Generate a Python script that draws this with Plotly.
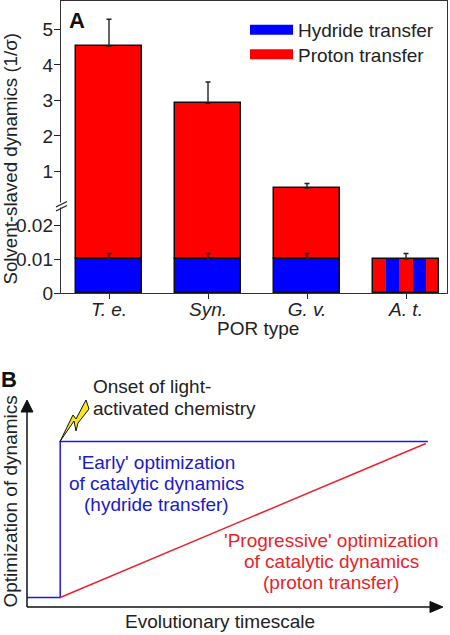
import plotly.graph_objects as go

# ---- data, panel A ----
por_types = ["T. e.", "Syn.", "G. v.", "A. t."]
hydride = [0.01, 0.01, 0.01]
hydride_err_top = [0.0116, 0.0116, 0.0116]
proton = [4.53, 2.92, 0.53]
proton_err_top = [5.29, 3.52, 0.66]
at_value = 0.01
at_err_top = 0.0116
stripe_colors = ["#ff0000", "#0000ff", "#ff0000", "#0000ff", "#ff0000"]
y_ticks = [0, 0.01, 0.02, 1, 2, 3, 4, 5]
y_ticklabels = ["0", "0.01", "0.02", "1", "2", "3", "4", "5"]

# ---- data, panel B ----
early_t = [0.0, 0.08, 0.08, 0.966]
early_y = [0.041, 0.041, 0.799, 0.799]
prog_t = [0.08, 0.961]
prog_y = [0.041, 0.789]

W, H = 450, 635
BLUE, RED, INK = "#0000ff", "#ff0000", "#1c1c1c"
FONT = "Liberation Sans"
FS = 19


def px(x):
    return x / W


def py(y):
    return 1 - y / H


# broken axis: linear low segment and linear high segment joined at the break
LOW_SCALE, BREAK_V, HIGH_SCALE, BREAK_H = 3400.0, 0.056, 35.5, 88.0


def f(v):
    return v * LOW_SCALE if v < BREAK_V / 2 else BREAK_H + (v - BREAK_V) * HIGH_SCALE


cx = list(range(3))
bar_w = 0.667
line = dict(color="#101010", width=1.5)
fig = go.Figure()

fig.add_bar(x=cx, y=[f(p) - f(h) for p, h in zip(proton, hydride)], base=[f(h) for h in hydride],
            width=bar_w, marker=dict(color=RED, line=line), showlegend=False, xaxis="x", yaxis="y",
            error_y=dict(type="data", symmetric=False,
                         array=[f(t) - f(p) for t, p in zip(proton_err_top, proton)],
                         arrayminus=[0, 0, 0], color="#222", thickness=1.4, width=2.5))
fig.add_scatter(x=cx, y=[f(h) for h in hydride], mode="markers", marker=dict(size=1, opacity=0),
                showlegend=False, xaxis="x", yaxis="y",
                error_y=dict(type="data", symmetric=False,
                             array=[f(t) - f(h) for t, h in zip(hydride_err_top, hydride)],
                             arrayminus=[0, 0, 0], color="#222", thickness=1.4, width=2.5))
fig.add_bar(x=cx, y=[f(h) for h in hydride], base=[0, 0, 0], width=bar_w,
            marker=dict(color=BLUE, line=line), showlegend=False, xaxis="x", yaxis="y")
# striped bar
n = len(stripe_colors)
sw = bar_w / n
fig.add_bar(x=[3 + (i - (n - 1) / 2) * sw for i in range(n)], y=[f(at_value)] * n, width=sw,
            marker=dict(color=stripe_colors, line=dict(width=0)), showlegend=False, xaxis="x", yaxis="y")
fig.add_bar(x=[3], y=[f(at_value)], width=bar_w, marker=dict(color="rgba(0,0,0,0)", line=line),
            showlegend=False, xaxis="x", yaxis="y",
            error_y=dict(type="data", symmetric=False, array=[f(at_err_top) - f(at_value)], arrayminus=[0],
                         color="#222", thickness=1.4, width=2.5))
# legend entries (one legend box per row, to keep the reference's row spacing)
fig.add_scatter(x=[None], y=[None], mode="lines", name="Hydride transfer", line=dict(color=BLUE, width=10),
                xaxis="x", yaxis="y", legend="legend", showlegend=True)
fig.add_scatter(x=[None], y=[None], mode="lines", name="Proton transfer", line=dict(color=RED, width=10),
                xaxis="x", yaxis="y", legend="legend2", showlegend=True)

# panel B
fig.add_scatter(x=early_t, y=early_y, mode="lines", line=dict(color="#1a1ae6", width=1.5), showlegend=False,
                xaxis="x2", yaxis="y2", cliponaxis=False)
fig.add_scatter(x=prog_t, y=prog_y, mode="lines", line=dict(color="#e8232a", width=1.5), showlegend=False,
                xaxis="x2", yaxis="y2", cliponaxis=False)

ann = []


def text(x, y, s, color="#222", size=FS, anchor="center", angle=0):
    ann.append(dict(x=px(x), y=py(y), xref="paper", yref="paper", text=s, showarrow=False, xanchor=anchor,
                    yanchor="middle", textangle=angle, font=dict(family=FONT, size=size, color=color)))


text(10.5, 159, "Solvent-slaved dynamics (1/σ)", angle=-90, size=18.7)
text(258, 328, "POR type")
text(77, 21, "<b>A</b>", color="#111", size=22)
text(8.5, 379, "<b>B</b>", color="#111", size=22)
text(91, 386, "Onset of light-", anchor="left")
text(91, 408, "activated chemistry", anchor="left")
for yy, s in zip([462, 483, 504], ["'Early' optimization", "of catalytic dynamics", "(hydride transfer)"]):
    text(156, yy, s, color="#1a1ac8")
for yy, s in zip([540, 561, 582], ["'Progressive' optimization", "of catalytic dynamics", "(proton transfer)"]):
    text(331, yy, s, color="#e8232a")
text(220, 621, "Evolutionary timescale")
text(9.5, 502, "Optimization of dynamics", angle=-90)

shapes = []


def pathshape(pts, fill, lc, lw=1):
    d = "M" + "L".join(f"{px(a):.5f},{py(b):.5f}" for a, b in pts) + "Z"
    shapes.append(dict(type="path", xref="paper", yref="paper", path=d, fillcolor=fill,
                       line=dict(color=lc, width=lw)))


def seg(a, b, c, d, color, w):
    shapes.append(dict(type="line", xref="paper", yref="paper", x0=px(a), y0=py(b), x1=px(c), y1=py(d),
                       line=dict(color=color, width=w)))


# axis break
shapes.append(dict(type="rect", xref="paper", yref="paper", x0=px(58), x1=px(64.5), y0=py(207.5), y1=py(202.5),
                   fillcolor="white", line=dict(width=0)))
seg(56, 207, 67, 201.5, "#222", 1.3)
seg(56, 211, 67, 205.5, "#222", 1.3)
# panel B axes with arrowheads
seg(27, 607, 27, 410, "#111", 1.5)
seg(27, 607, 432, 607, "#111", 1.5)
pathshape([(27, 400), (33, 412), (21, 412)], "#111", "#111")
pathshape([(443, 607), (430, 601.5), (430, 612.5)], "#111", "#111")
# lightning bolt
pathshape([(60, 441.5), (73, 415), (76, 419), (86, 400), (89, 409), (78, 423), (76, 431), (74, 421)],
          "#f2e81e", "#111", 1)

legend_common = dict(xanchor="left", yanchor="middle", itemwidth=43, bgcolor="rgba(0,0,0,0)",
                     font=dict(size=FS), borderwidth=0)
fig.update_layout(
    width=W, height=H, margin=dict(l=0, r=0, t=0, b=0, autoexpand=False), paper_bgcolor="white",
    plot_bgcolor="white", barmode="overlay", bargap=0, font=dict(family=FONT, size=FS, color="#222"),
    xaxis=dict(domain=[px(61), px(447)], range=[-0.485, 3.414], anchor="y", tickmode="array",
               tickvals=[0, 1, 2, 3], ticktext=[f"<i>{t}</i>" for t in por_types], ticks="outside", ticklen=5,
               tickwidth=1.3, tickcolor="#222", showline=True, linecolor="#333", linewidth=1.4, mirror=True,
               showgrid=False, zeroline=False, tickfont=dict(size=FS), ticklabelstandoff=-6),
    yaxis=dict(domain=[py(293), py(1)], range=[0, 292], anchor="x", tickmode="array",
               tickvals=[f(v) for v in y_ticks], ticktext=y_ticklabels, ticks="outside", ticklen=6,
               tickwidth=1.3, tickcolor="#222", showline=True, linecolor="#333", linewidth=1.4, mirror=True,
               showgrid=False, zeroline=False, tickfont=dict(size=FS), ticklabelstandoff=-3),
    xaxis2=dict(domain=[px(27), px(442)], range=[0, 1], anchor="y2", visible=False),
    yaxis2=dict(domain=[py(606), py(400)], range=[0, 1], anchor="x2", visible=False),
    legend=dict(x=px(245), y=py(30), **legend_common),
    legend2=dict(x=px(245), y=py(54.5), **legend_common),
    annotations=ann, shapes=shapes,
)
fig.write_html("out.html", config={"displayModeBar": False},
               post_script="document.body.style.margin='0';document.body.style.overflow='hidden';")
